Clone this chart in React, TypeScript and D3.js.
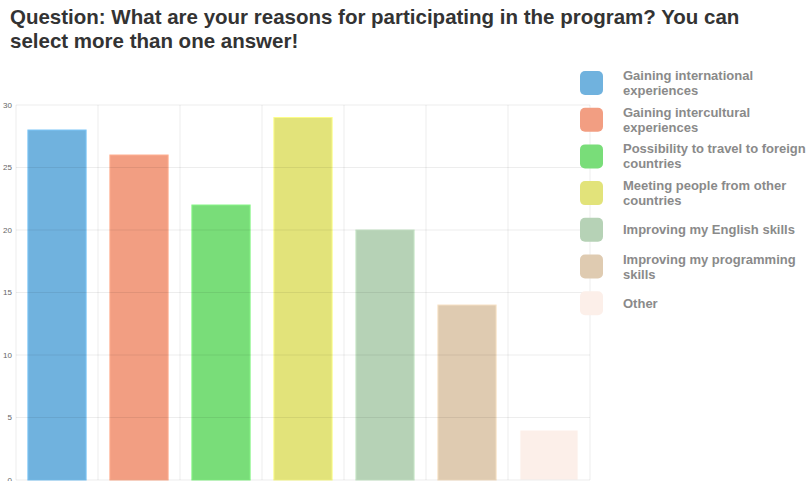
import React from "react";
import * as d3 from "d3";

const categories = [
  "Gaining international experiences",
  "Gaining intercultural experiences",
  "Possibility to travel to foreign countries",
  "Meeting people from other countries",
  "Improving my English skills",
  "Improving my programming skills",
  "Other",
];
const legendLines = [
  ["Gaining international", "experiences"],
  ["Gaining intercultural", "experiences"],
  ["Possibility to travel to foreign", "countries"],
  ["Meeting people from other", "countries"],
  ["Improving my English skills"],
  ["Improving my programming", "skills"],
  ["Other"],
];
const values = [28, 26, 22, 29, 20, 14, 4];
const colors = ["#70b2de", "#f29e82", "#79dd79", "#e2e37a", "#b6d2b6", "#dfcbb1", "#fcefe9"];
const yTicks = [0, 5, 10, 15, 20, 25, 30];
const titleLines = [
  "Question: What are your reasons for participating in the program? You can",
  "select more than one answer!",
];

export default function App() {
  const W = 810, H = 481;
  const left = 16, right = 590, top = 105, bottom = 480;
  const x = d3.scaleBand<string>().domain(categories).range([left, right]).paddingInner(0.29).paddingOuter(0.145);
  const xb = d3.scaleBand<string>().domain(categories).range([left, right]);
  const y = d3.scaleLinear().domain([0, 30]).range([bottom, top]);
  const legendTop = 71, legendStep = 36.7;
  return (
    <svg width={W} height={H} style={{ position: "absolute", left: 0, top: 0, background: "#fff" }}
      fontFamily="'Liberation Sans', Arial, Helvetica, sans-serif">
      {titleLines.map((t, i) => (
        <text key={i} x={10} y={24 + i * 23.5} fontSize={20.5} fontWeight="bold" fill="#333">{t}</text>
      ))}
      {categories.map((c, i) => (
        <rect key={c} x={x(c)} y={y(values[i])} width={x.bandwidth()} height={y(0) - y(values[i])}
          fill={colors[i]} stroke={d3.color(colors[i])!.brighter(0.3).toString()} strokeWidth={1} />
      ))}
      {categories.map((c) => (
        <line key={"v" + c} x1={xb(c)} x2={xb(c)} y1={top} y2={bottom} stroke="#000" strokeOpacity={0.07} />
      ))}
      <line x1={right} x2={right} y1={top} y2={bottom} stroke="#000" strokeOpacity={0.07} />
      {yTicks.map((t) => (
        <g key={t}>
          <line x1={left} x2={right} y1={y(t)} y2={y(t)} stroke="#000" strokeOpacity={0.07} />
          <text x={12} y={y(t)} dy="0.32em" fontSize={8} fill="#666" textAnchor="end">{t}</text>
        </g>
      ))}
      {legendLines.map((lines, i) => {
        const sy = legendTop + i * legendStep;
        const cy = sy + 12;
        const lh = 15;
        const startY = cy - ((lines.length - 1) * lh) / 2;
        return (
          <g key={i}>
            <rect x={580} y={sy} width={23} height={24} rx={5} fill={colors[i]} />
            {lines.map((l, j) => (
              <text key={j} x={623} y={startY + j * lh} dy="0.35em" fontSize={13} fontWeight="bold" fill="#8a8a8a">{l}</text>
            ))}
          </g>
        );
      })}
    </svg>
  );
}
